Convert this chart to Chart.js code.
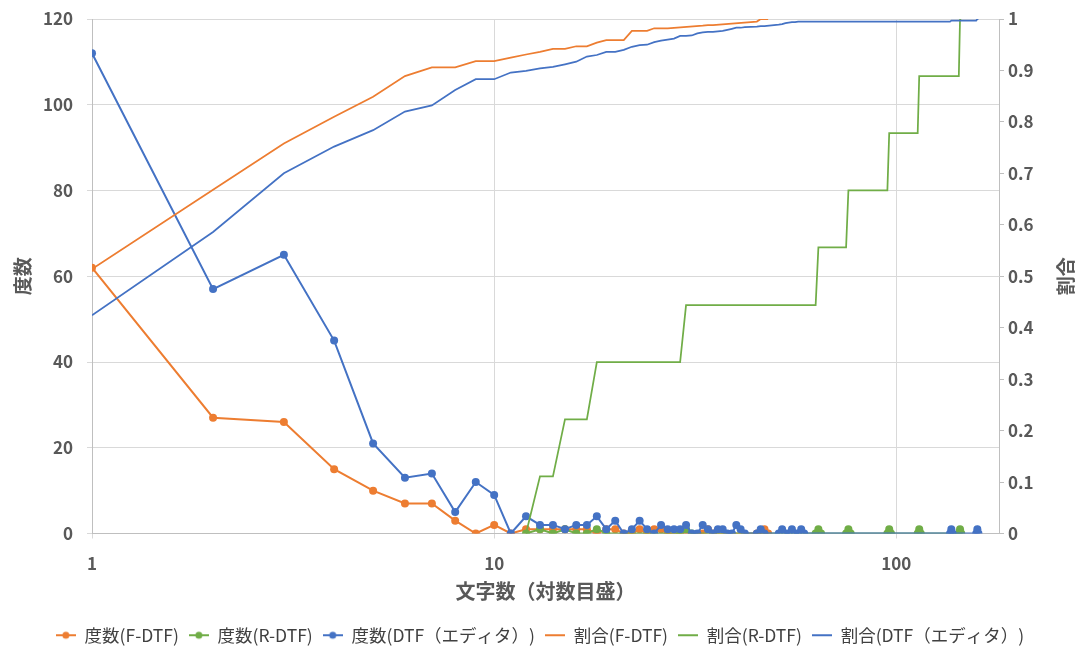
<!DOCTYPE html>
<html>
<head>
<meta charset="utf-8">
<script src="https://cdn.jsdelivr.net/npm/chart.js@4.4.1/dist/chart.umd.min.js"></script>
<style>
    html, body { margin: 0; padding: 0; background: #fff; }
</style>
</head>
<body>
<canvas id="chart" width="1080" height="648"></canvas>
<script>
// 文字数ごとの度数と累積割合
const fdtfLen = [1, 2, 3, 4, 5, 6, 7, 8, 9, 10, 11, 12, 13, 14, 15, 16, 17, 18, 19, 20, 21, 22, 23, 24, 25, 26, 27, 33, 34, 35, 45, 46, 47, 48];
const fdtfFreq = [62, 27, 26, 15, 10, 7, 7, 3, 0, 2, 0, 1, 1, 1, 1, 1, 1, 0, 1, 1, 0, 0, 1, 0, 1, 1, 0, 0, 1, 0, 0, 0, 1, 0];
const fdtfRatio = [0.514, 0.668, 0.758, 0.810, 0.849, 0.889, 0.906, 0.906, 0.918, 0.918, 0.925, 0.931, 0.936, 0.942, 0.942, 0.947, 0.947, 0.954, 0.959, 0.959, 0.959, 0.977, 0.977, 0.977, 0.982, 0.982, 0.982, 0.987, 0.988, 0.988, 0.995, 1, 1, 1];

const rdtfLen = [12, 13, 14, 15, 16, 17, 18, 19, 29, 30, 31, 63, 64, 65, 75, 76, 77, 95, 96, 97, 113, 114, 115, 143, 144, 145];
const rdtfFreq = [0, 1, 0, 1, 0, 0, 1, 0, 0, 1, 0, 0, 1, 0, 0, 1, 0, 0, 1, 0, 0, 1, 0, 0, 1, 0];
const rdtfRatio = [0, 0.111, 0.111, 0.222, 0.222, 0.222, 0.333, 0.333, 0.333, 0.444, 0.444, 0.444, 0.556, 0.556, 0.556, 0.667, 0.667, 0.667, 0.778, 0.778, 0.778, 0.889, 0.889, 0.889, 1, 1];

const dtfLen = [1, 2, 3, 4, 5, 6, 7, 8, 9, 10, 11, 12, 13, 14, 15, 16, 17, 18, 19, 20, 21, 22, 23, 24, 25, 26, 27, 28, 29, 30, 31, 32, 33, 34, 35, 36, 37, 38, 39, 40, 41, 42, 45, 46, 47, 51, 52, 53, 54, 55, 56, 57, 58, 59, 136, 137, 138, 158, 159, 160];
const dtfFreq = [112, 57, 65, 45, 21, 13, 14, 5, 12, 9, 0, 4, 2, 2, 1, 2, 2, 4, 1, 3, 0, 1, 3, 1, 0, 2, 1, 1, 1, 2, 0, 0, 2, 1, 0, 1, 1, 0, 0, 2, 1, 0, 0, 1, 0, 0, 1, 0, 0, 1, 0, 0, 1, 0, 0, 1, 0, 0, 1, 0];
const dtfRatio = [0.424, 0.586, 0.700, 0.752, 0.784, 0.820, 0.832, 0.862, 0.883, 0.883, 0.896, 0.899, 0.904, 0.907, 0.912, 0.917, 0.927, 0.930, 0.936, 0.936, 0.940, 0.946, 0.949, 0.950, 0.955, 0.958, 0.960, 0.962, 0.967, 0.967, 0.968, 0.972, 0.974, 0.975, 0.975, 0.976, 0.977, 0.979, 0.981, 0.983, 0.983, 0.984, 0.985, 0.986, 0.986, 0.989, 0.990, 0.992, 0.993, 0.994, 0.994, 0.995, 0.995, 0.995, 0.995, 0.997, 0.997, 0.997, 1, 1];

const xTicks = [1, 10, 100];
const seriesNames = ['度数(F-DTF)', '度数(R-DTF)', '度数(DTF（エディタ）)', '割合(F-DTF)', '割合(R-DTF)', '割合(DTF（エディタ）)'];
const rightTitle = '割合';

const ORANGE = '#ED7D31';
const GREEN = '#70AD47';
const BLUE = '#4472C4';
const TEXT = '#595959';
const FONT = "'Noto Sans CJK JP', 'Noto Sans', sans-serif";

function toPoints(xs, ys) {
    return xs.map((x, i) => ({x: x, y: ys[i]}));
}

function legendIcon(color, withDot) {
    const c = document.createElement('canvas');
    c.width = 20;
    c.height = 10;
    const g = c.getContext('2d');
    g.strokeStyle = color;
    g.lineWidth = 2;
    g.beginPath();
    g.moveTo(0, 5);
    g.lineTo(20, 5);
    g.stroke();
    if (withDot) {
        g.fillStyle = color;
        g.beginPath();
        g.arc(10, 5, 3.5, 0, Math.PI * 2);
        g.fill();
    }
    return c;
}

function freqSet(label, xs, ys, color, order) {
    return {
        label: label,
        data: toPoints(xs, ys),
        yAxisID: 'y',
        borderColor: color,
        backgroundColor: color,
        borderWidth: 2,
        pointRadius: 4,
        pointBorderWidth: 0,
        pointBackgroundColor: color,
        order: order
    };
}

function ratioSet(label, xs, ys, color, order) {
    return {
        label: label,
        data: toPoints(xs, ys),
        yAxisID: 'y1',
        borderColor: color,
        backgroundColor: color,
        borderWidth: 1.75,
        pointRadius: 0,
        order: order
    };
}

// 第2軸のタイトルは左軸と同じ向き（下から上）で描く
const rightTitlePlugin = {
    id: 'rightTitle',
    afterDraw(chart) {
        const ctx = chart.ctx;
        const area = chart.chartArea;
        ctx.save();
        ctx.translate(1066, (area.top + area.bottom) / 2);
        ctx.rotate(-Math.PI / 2);
        ctx.fillStyle = TEXT;
        ctx.font = 'bold 19px ' + FONT;
        ctx.textAlign = 'center';
        ctx.textBaseline = 'middle';
        ctx.fillText(rightTitle, 0, 0);
        ctx.restore();
    }
};

const colors = [ORANGE, GREEN, BLUE, ORANGE, GREEN, BLUE];
const icons = colors.map((c, i) => legendIcon(c, i < 3));

const config = {
    type: 'line',
    data: {
        datasets: [
            freqSet(seriesNames[0], fdtfLen, fdtfFreq, ORANGE, 5),
            freqSet(seriesNames[1], rdtfLen, rdtfFreq, GREEN, 4),
            freqSet(seriesNames[2], dtfLen, dtfFreq, BLUE, 3),
            ratioSet(seriesNames[3], fdtfLen, fdtfRatio, ORANGE, 2),
            ratioSet(seriesNames[4], rdtfLen, rdtfRatio, GREEN, 1),
            ratioSet(seriesNames[5], dtfLen, dtfRatio, BLUE, 0)
        ]
    },
    plugins: [rightTitlePlugin],
    options: {
        responsive: false,
        animation: false,
        layout: {padding: {top: 19, right: 0, bottom: -6, left: 0}},
        plugins: {
            tooltip: {enabled: false},
            legend: {
                position: 'bottom',
                labels: {
                    usePointStyle: true,
                    pointStyleWidth: 20,
                    padding: 10,
                    color: '#404040',
                    font: {family: FONT, size: 17.5},
                    generateLabels: chart => chart.data.datasets.map((ds, i) => ({
                        text: ds.label,
                        pointStyle: icons[i],
                        fillStyle: colors[i],
                        strokeStyle: colors[i],
                        lineWidth: 0,
                        hidden: false,
                        datasetIndex: i,
                        fontColor: '#404040'
                    }))
                }
            }
        },
        scales: {
            x: {
                type: 'logarithmic',
                min: 1,
                max: 180,
                afterBuildTicks: scale => {
                    scale.ticks = xTicks.map(v => ({value: v}));
                },
                afterFit: scale => {
                    scale.height = 83;
                },
                ticks: {
                    color: TEXT,
                    padding: 15,
                    maxRotation: 0,
                    font: {family: FONT, size: 17, weight: 'bold'},
                    callback: v => String(v)
                },
                grid: {color: '#D9D9D9', tickLength: 5},
                border: {color: '#BFBFBF'},
                title: {
                    display: true,
                    text: '文字数（対数目盛）',
                    color: TEXT,
                    padding: {top: 0, bottom: 13},
                    font: {family: FONT, size: 20, weight: 'bold'}
                }
            },
            y: {
                position: 'left',
                min: 0,
                max: 120,
                ticks: {
                    stepSize: 20,
                    color: TEXT,
                    padding: 14,
                    font: {family: FONT, size: 17, weight: 'bold', lineHeight: 0.5}
                },
                afterFit: scale => {
                    scale.width = 92;
                },
                grid: {color: '#D9D9D9', tickLength: 5},
                border: {color: '#BFBFBF'},
                title: {
                    display: true,
                    text: '度数',
                    color: TEXT,
                    padding: {top: 11, bottom: 0},
                    font: {family: FONT, size: 19, weight: 'bold'}
                }
            },
            y1: {
                position: 'right',
                min: 0,
                max: 1,
                ticks: {
                    stepSize: 0.1,
                    color: TEXT,
                    padding: 4,
                    font: {family: FONT, size: 17, weight: 'bold', lineHeight: 0.5},
                    callback: v => String(Number(v.toFixed(1)))
                },
                afterFit: scale => {
                    scale.width = 81;
                },
                grid: {drawOnChartArea: false, color: '#BFBFBF', tickLength: 5},
                border: {color: '#BFBFBF'}
            }
        }
    }
};

new Chart(document.getElementById('chart'), config);
</script>
</body>
</html>
